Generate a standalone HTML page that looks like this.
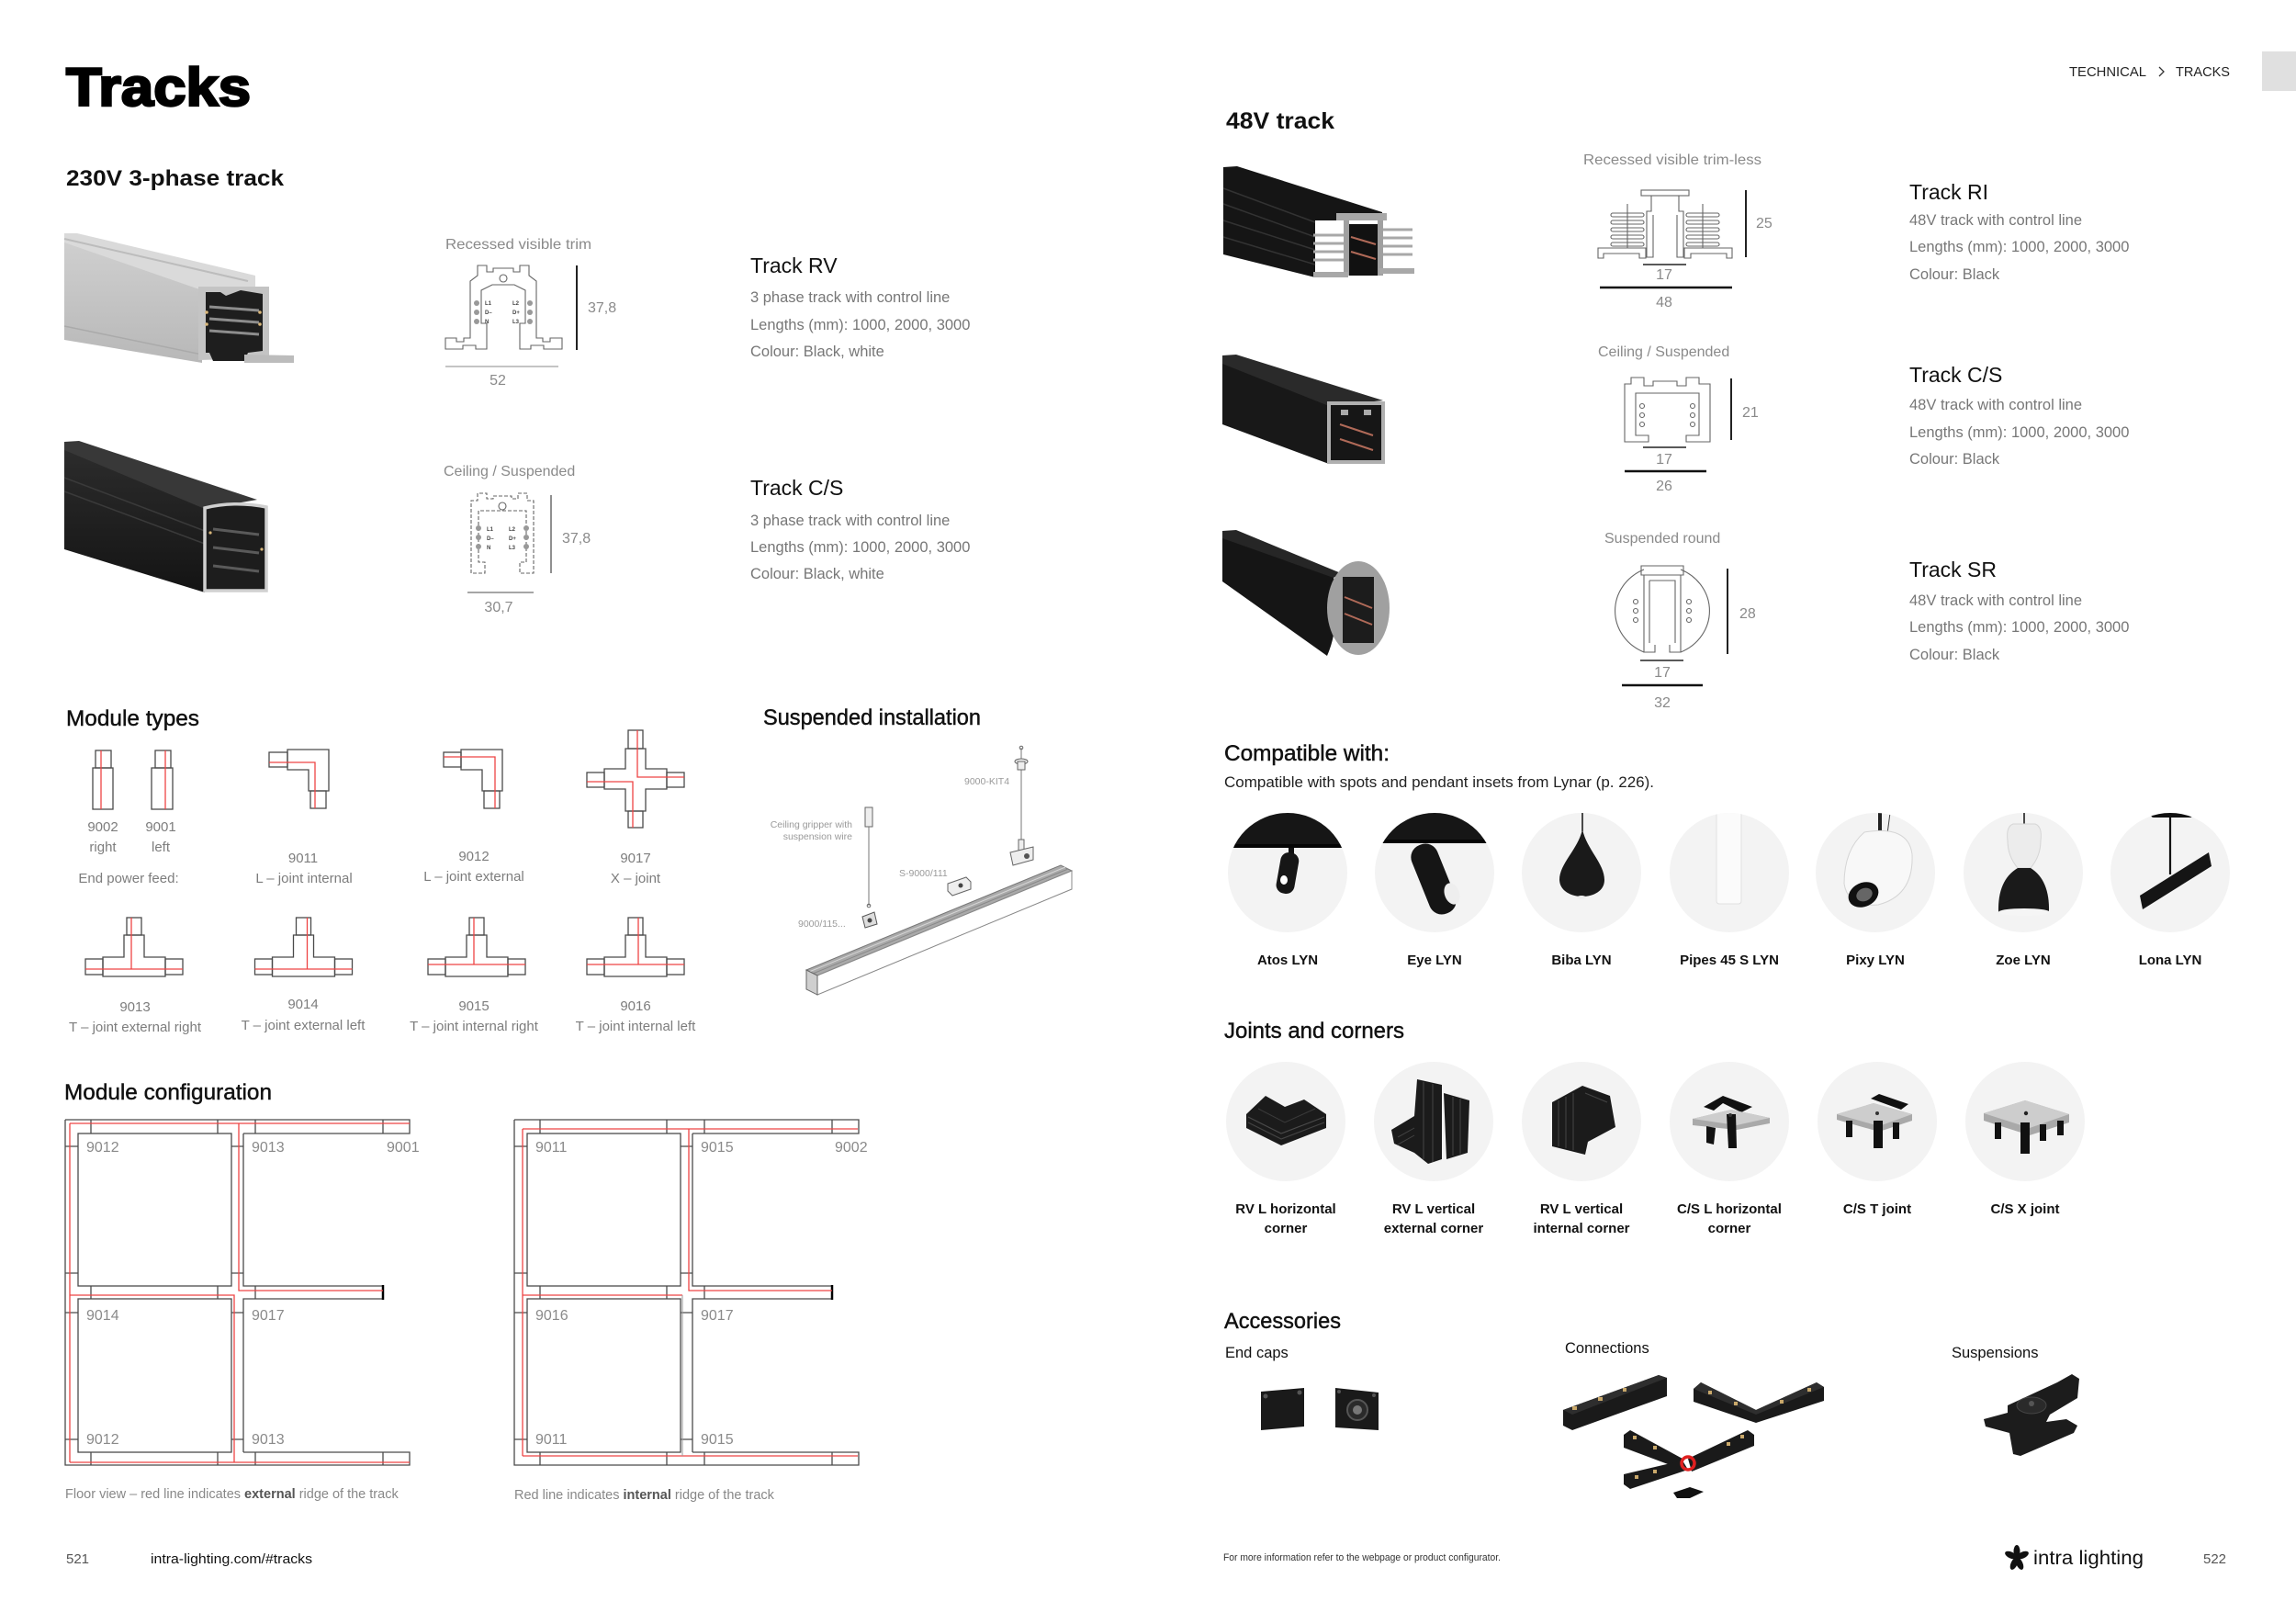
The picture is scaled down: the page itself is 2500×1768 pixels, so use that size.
<!DOCTYPE html>
<html><head><meta charset="utf-8">
<style>
html,body{margin:0;padding:0;background:#fff;}
svg{display:block;}
text{font-family:"Liberation Sans",Arial,sans-serif;}
.h{font-size:24px;fill:#111;stroke:#111;stroke-width:0.45px;}
.d{font-size:16.5px;fill:#777;}
.t{font-size:23px;fill:#111;}
.s{font-size:16px;fill:#8a8a8a;}
.m{font-size:15px;fill:#7d7d7d;text-anchor:middle;}
.b{font-size:15px;font-weight:bold;fill:#111;text-anchor:middle;}
.sm{font-size:10.5px;fill:#9a9a9a;}
.ln{stroke:#4a4a4a;stroke-width:1.3;fill:none;}
.rd{stroke:#e44;stroke-width:1.3;fill:none;}
.pr{stroke:#666;stroke-width:1.1;fill:none;}
.tiny{font-size:6px;font-weight:bold;fill:#444;}
</style></head><body>
<svg width="2500" height="1768" viewBox="0 0 2500 1768" xmlns="http://www.w3.org/2000/svg">
<rect width="2500" height="1768" fill="#fff"/>
<defs>
<linearGradient id="silv" x1="0" y1="0" x2="0" y2="1"><stop offset="0" stop-color="#cfcfcf"/><stop offset="1" stop-color="#b8b8b8"/></linearGradient>
<linearGradient id="blk" x1="0" y1="0" x2="0" y2="1"><stop offset="0" stop-color="#2c2c2c"/><stop offset="1" stop-color="#141414"/></linearGradient>
<clipPath id="c1"><circle cx="1402" cy="950" r="65"/></clipPath>
<clipPath id="c2"><circle cx="1562" cy="950" r="65"/></clipPath>
<clipPath id="c3"><circle cx="1722" cy="950" r="65"/></clipPath>
<clipPath id="c4"><circle cx="1883" cy="950" r="65"/></clipPath>
<clipPath id="c5"><circle cx="2042" cy="950" r="65"/></clipPath>
<clipPath id="c6"><circle cx="2203" cy="950" r="65"/></clipPath>
<clipPath id="c7"><circle cx="2363" cy="950" r="65"/></clipPath>
</defs>

<!-- ================= LEFT PAGE ================= -->
<text x="72" y="115" font-size="58" font-weight="bold" fill="#000" stroke="#000" stroke-width="2.5" textLength="201" lengthAdjust="spacingAndGlyphs">Tracks</text>
<text x="72" y="202" font-size="24" font-weight="bold" fill="#111" textLength="237" lengthAdjust="spacingAndGlyphs">230V 3-phase track</text>

<!-- silver RV track photo -->
<polygon points="70,262 220,314 220,395 70,370" fill="url(#silv)"/>
<polygon points="70,254 84,254 278,300 278,312 220,316 70,264" fill="#dadada"/>
<line x1="70" y1="260" x2="270" y2="306" stroke="#bcbcbc" stroke-width="2"/>
<line x1="70" y1="355" x2="220" y2="386" stroke="#aaa" stroke-width="1.5"/>
<polygon points="216,312 293,312 293,390 216,392" fill="#c4c4c4"/>
<path d="M224,318 L240,318 L246,322 L262,316 L286,320 L286,382 L270,384 L266,393 L232,393 L228,384 L224,384 Z" fill="#1e1e1e"/>
<g stroke="#8d8d8d" stroke-width="3"><line x1="228" y1="334" x2="282" y2="338"/><line x1="228" y1="347" x2="282" y2="351"/><line x1="228" y1="360" x2="282" y2="364"/></g>
<g fill="#d9b77a"><circle cx="225" cy="340" r="1.8"/><circle cx="225" cy="353" r="1.8"/><circle cx="283" cy="340" r="1.8"/><circle cx="283" cy="353" r="1.8"/></g>
<polygon points="266,386 320,387 320,395 266,395" fill="#bcbcbc"/>

<!-- black C/S track photo -->
<polygon points="70,488 223,553 223,645 70,598" fill="url(#blk)"/>
<polygon points="70,481 86,480 280,544 223,554 70,490" fill="#383838"/>
<g stroke="#3a3a3a" stroke-width="1.5"><line x1="70" y1="520" x2="223" y2="578"/><line x1="70" y1="535" x2="223" y2="592"/></g>
<path d="M223,553 Q255,545 290,552 L290,643 L223,643 Z" fill="#1d1d1d" stroke="#d0d0d0" stroke-width="3.5"/>
<g stroke="#5a5a5a" stroke-width="3"><line x1="232" y1="576" x2="282" y2="582"/><line x1="232" y1="596" x2="282" y2="602"/><line x1="232" y1="616" x2="282" y2="622"/></g>
<g fill="#d9b77a"><circle cx="229" cy="580" r="1.6"/><circle cx="285" cy="598" r="1.6"/></g>

<!-- RV profile -->
<text class="s" x="485" y="271" textLength="159" lengthAdjust="spacingAndGlyphs">Recessed visible trim</text>
<path class="pr" d="M485,380 L485,368 L497,368 L497,372 L505,372 L505,368 L512,368 L512,306 L520,300 L520,289 L530,289 L530,296 L537,296 L537,292 L559,292 L559,296 L566,296 L566,289 L576,289 L576,300 L584,306 L584,368 L591,368 L591,372 L599,372 L599,368 L612,368 L612,380 L592,380 L592,376 L578,376 L578,380 L566,380 L566,352 L572,352 L572,316 L560,310 L536,310 L524,316 L524,352 L530,352 L530,380 L518,380 L518,376 L504,376 L504,380 Z"/>
<circle cx="548" cy="303" r="4" class="pr"/>
<g fill="#999"><circle cx="519" cy="330" r="3"/><circle cx="519" cy="340" r="3"/><circle cx="519" cy="350" r="3"/><circle cx="577" cy="330" r="3"/><circle cx="577" cy="340" r="3"/><circle cx="577" cy="350" r="3"/></g>
<text class="tiny" x="528" y="332">L1</text><text class="tiny" x="528" y="342">D–</text><text class="tiny" x="528" y="352">N</text>
<text class="tiny" x="558" y="332">L2</text><text class="tiny" x="558" y="342">D+</text><text class="tiny" x="558" y="352">L3</text>
<line x1="628" y1="289" x2="628" y2="381" stroke="#222" stroke-width="2"/>
<text class="s" x="640" y="340">37,8</text>
<line x1="485" y1="399" x2="608" y2="399" stroke="#888" stroke-width="1"/>
<text class="s" x="542" y="419" text-anchor="middle">52</text>

<text class="t" x="817" y="297">Track RV</text>
<text class="d" x="817" y="329">3 phase track with control line</text>
<text class="d" x="817" y="359">Lengths (mm): 1000, 2000, 3000</text>
<text class="d" x="817" y="388">Colour: Black, white</text>

<!-- C/S profile -->
<text class="s" x="483" y="518">Ceiling / Suspended</text>
<path class="pr" stroke-dasharray="4,2" d="M513,624 L513,545 L520,545 L520,537 L530,537 L530,543 L537,543 L537,540 L557,540 L557,543 L564,543 L564,537 L574,537 L574,545 L581,545 L581,624 L566,624 L566,612 L573,612 L573,556 L521,556 L521,612 L528,612 L528,624 Z"/>
<circle cx="547" cy="551" r="4" class="pr"/>
<g fill="#999"><circle cx="521" cy="575" r="3"/><circle cx="521" cy="585" r="3"/><circle cx="521" cy="595" r="3"/><circle cx="573" cy="575" r="3"/><circle cx="573" cy="585" r="3"/><circle cx="573" cy="595" r="3"/></g>
<text class="tiny" x="530" y="578">L1</text><text class="tiny" x="530" y="588">D–</text><text class="tiny" x="530" y="598">N</text>
<text class="tiny" x="554" y="578">L2</text><text class="tiny" x="554" y="588">D+</text><text class="tiny" x="554" y="598">L3</text>
<line x1="600" y1="539" x2="600" y2="624" stroke="#555" stroke-width="1.3"/>
<text class="s" x="612" y="591">37,8</text>
<line x1="509" y1="645" x2="581" y2="645" stroke="#888" stroke-width="1.5"/>
<text class="s" x="543" y="666" text-anchor="middle">30,7</text>

<text class="t" x="817" y="539">Track C/S</text>
<text class="d" x="817" y="572">3 phase track with control line</text>
<text class="d" x="817" y="601">Lengths (mm): 1000, 2000, 3000</text>
<text class="d" x="817" y="630">Colour: Black, white</text>

<!-- Module types -->
<text class="h" x="72" y="790" textLength="145" lengthAdjust="spacingAndGlyphs">Module types</text>
<rect class="ln" x="104" y="817" width="17" height="19"/><rect class="ln" x="101" y="836" width="22" height="45"/>
<line class="rd" x1="110" y1="817" x2="110" y2="881"/>
<rect class="ln" x="169" y="817" width="17" height="19"/><rect class="ln" x="165" y="836" width="23" height="45"/>
<line class="rd" x1="180" y1="817" x2="180" y2="881"/>
<text class="m" x="112" y="905">9002</text><text class="m" x="175" y="905">9001</text>
<text class="m" x="112" y="927">right</text><text class="m" x="175" y="927">left</text>
<text class="m" x="140" y="961">End power feed:</text>
<polygon class="ln" points="313,816 358,816 358,861 336,861 336,838 313,838"/>
<rect class="ln" x="293" y="819" width="20" height="16"/><rect class="ln" x="338" y="861" width="17" height="19"/>
<path class="rd" d="M293,830 H343 V880" stroke="#f09090"/>
<text class="m" x="330" y="939">9011</text><text class="m" x="331" y="961">L – joint internal</text>
<polygon class="ln" points="502,816 547,816 547,861 525,861 525,838 502,838"/>
<rect class="ln" x="483" y="819" width="19" height="16"/><rect class="ln" x="527" y="861" width="17" height="19"/>
<path class="rd" d="M483,824 H539 V880"/>
<text class="m" x="516" y="937">9012</text><text class="m" x="516" y="959">L – joint external</text>
<polygon class="ln" points="681,815 703,815 703,837 726,837 726,859 703,859 703,883 681,883 681,859 658,859 658,837 681,837"/>
<rect class="ln" x="684" y="795" width="16" height="20"/><rect class="ln" x="684" y="883" width="16" height="18"/>
<rect class="ln" x="639" y="841" width="19" height="16"/><rect class="ln" x="726" y="841" width="19" height="16"/>
<path class="rd" d="M694,795 V846 H745 M639,851 H689 V901"/>
<text class="m" x="692" y="939">9017</text><text class="m" x="692" y="961">X – joint</text>
<g>
<polygon class="ln" points="135,1018 157,1018 157,1042 180,1042 180,1063 112,1063 112,1042 135,1042"/>
<rect class="ln" x="138" y="999" width="16" height="19"/><rect class="ln" x="93" y="1044" width="19" height="17"/><rect class="ln" x="180" y="1044" width="19" height="17"/>
<path class="rd" d="M143,999 V1055 M93,1055 H199" stroke="#f07070"/>
</g>
<g transform="translate(184.5,0)">
<polygon class="ln" points="135,1018 157,1018 157,1042 180,1042 180,1063 112,1063 112,1042 135,1042"/>
<rect class="ln" x="138" y="999" width="16" height="19"/><rect class="ln" x="93" y="1044" width="19" height="17"/><rect class="ln" x="180" y="1044" width="19" height="17"/>
<path class="rd" d="M150,999 V1055 M93,1055 H199"/>
</g>
<g transform="translate(373,0)">
<polygon class="ln" points="135,1018 157,1018 157,1042 180,1042 180,1063 112,1063 112,1042 135,1042"/>
<rect class="ln" x="138" y="999" width="16" height="19"/><rect class="ln" x="93" y="1044" width="19" height="17"/><rect class="ln" x="180" y="1044" width="19" height="17"/>
<path class="rd" d="M143,999 V1050 M93,1050 H199" stroke="#f07070"/>
</g>
<g transform="translate(546,0)">
<polygon class="ln" points="135,1018 157,1018 157,1042 180,1042 180,1063 112,1063 112,1042 135,1042"/>
<rect class="ln" x="138" y="999" width="16" height="19"/><rect class="ln" x="93" y="1044" width="19" height="17"/><rect class="ln" x="180" y="1044" width="19" height="17"/>
<path class="rd" d="M149,999 V1050 M93,1050 H199"/>
</g>
<text class="m" x="147" y="1101">9013</text><text class="m" x="147" y="1123">T – joint external right</text>
<text class="m" x="330" y="1098">9014</text><text class="m" x="330" y="1121">T – joint external left</text>
<text class="m" x="516" y="1100">9015</text><text class="m" x="516" y="1122">T – joint internal right</text>
<text class="m" x="692" y="1100">9016</text><text class="m" x="692" y="1122">T – joint internal left</text>

<!-- Suspended installation -->
<text class="h" x="831" y="789" textLength="237" lengthAdjust="spacingAndGlyphs">Suspended installation</text>
<line x1="1112" y1="814" x2="1112" y2="918" stroke="#777" stroke-width="1"/>
<circle cx="1112" cy="814" r="1.8" fill="none" stroke="#666"/>
<ellipse cx="1112" cy="829" rx="7" ry="3" fill="#eee" stroke="#666"/>
<rect x="1108" y="829" width="8" height="9" fill="#eee" stroke="#666"/>
<rect x="1109" y="914" width="6" height="12" fill="#eee" stroke="#666"/>
<polygon points="1100,928 1125,922 1125,936 1103,942" fill="#eee" stroke="#666"/>
<circle cx="1118" cy="932" r="3" fill="#555"/>
<rect x="942" y="879" width="8" height="21" fill="#eee" stroke="#666"/>
<line x1="946" y1="900" x2="946" y2="986" stroke="#777" stroke-width="1"/>
<circle cx="946" cy="986" r="1.8" fill="none" stroke="#666"/>
<polygon points="939,998 952,993 955,1006 942,1010" fill="#ddd" stroke="#555"/>
<circle cx="947" cy="1002" r="2.5" fill="#444"/>
<polygon points="1032,962 1052,955 1057,960 1057,968 1037,975 1032,970" fill="#eee" stroke="#666"/>
<circle cx="1046" cy="964" r="2.5" fill="#444"/>
<polygon points="878,1056 1155,942 1167,948 890,1062" fill="#a9a9a9" stroke="#777" stroke-width="1"/>
<line x1="881" y1="1058" x2="1160" y2="944" stroke="#d5d5d5" stroke-width="1"/>
<line x1="885" y1="1060" x2="1163" y2="946" stroke="#888" stroke-width="1"/>
<polygon points="890,1062 1167,948 1167,968 890,1083" fill="#fff" stroke="#888" stroke-width="1"/>
<polygon points="878,1056 890,1062 890,1083 878,1077" fill="#cfcfcf" stroke="#666" stroke-width="1"/>
<text class="sm" x="1050" y="854">9000-KIT4</text>
<text class="sm" x="928" y="901" text-anchor="end">Ceiling gripper with</text>
<text class="sm" x="928" y="914" text-anchor="end">suspension wire</text>
<text class="sm" x="979" y="954">S-9000/111</text>
<text class="sm" x="869" y="1009">9000/115...</text>

<!-- Module configuration -->
<text class="h" x="70" y="1197" textLength="226" lengthAdjust="spacingAndGlyphs">Module configuration</text>
<g id="cfg">
<path class="ln" d="M71,1219 H446 V1234 H265 M71,1219 V1595 H446 V1581 H265"/>
<rect class="ln" x="85" y="1234" width="167" height="166"/>
<rect class="ln" x="85" y="1414" width="167" height="167"/>
<path class="ln" d="M265,1234 V1400 H417 M265,1581 V1414 H417"/>
<line x1="417" y1="1399" x2="417" y2="1415" stroke="#000" stroke-width="2.5"/>
<path class="ln" d="M99,1219 V1234 M237,1219 V1234 M278,1219 V1234 M417,1219 V1234 M99,1581 V1595 M237,1581 V1595 M278,1581 V1595 M417,1581 V1595 M99,1400 V1414 M237,1400 V1414 M278,1400 V1414"/>
<path class="ln" d="M71,1248 H85 M71,1386 H85 M71,1429 H85 M71,1567 H85 M252,1248 H265 M252,1386 H265 M252,1429 H265 M252,1567 H265"/>
</g>
<path class="rd" d="M76,1223 V1592 M76,1223 H446 M260,1223 V1405 H417 M76,1410 H255 V1592 M76,1592 H446" stroke="#ee8080"/>
<use href="#cfg" x="489" y="0"/>
<path class="rd" d="M569,1229 V1585 M569,1229 H934 M750,1229 V1405 H906 M569,1410 H743 M569,1585 H934"/>
<line x1="743" y1="1410" x2="743" y2="1585" stroke="#999" stroke-width="1"/>
<g class="s">
<text x="94" y="1254">9012</text><text x="274" y="1254">9013</text><text x="421" y="1254">9001</text>
<text x="94" y="1437">9014</text><text x="274" y="1437">9017</text>
<text x="94" y="1572">9012</text><text x="274" y="1572">9013</text>
<text x="583" y="1254">9011</text><text x="763" y="1254">9015</text><text x="909" y="1254">9002</text>
<text x="583" y="1437">9016</text><text x="763" y="1437">9017</text>
<text x="583" y="1572">9011</text><text x="763" y="1572">9015</text>
</g>
<text x="71" y="1631" font-size="14.5" fill="#888">Floor view – red line indicates <tspan font-weight="bold" fill="#555">external</tspan> ridge of the track</text>
<text x="560" y="1632" font-size="14.5" fill="#888">Red line indicates <tspan font-weight="bold" fill="#555">internal</tspan> ridge of the track</text>

<text x="72" y="1702" font-size="15" fill="#555">521</text>
<text x="164" y="1702" font-size="15" fill="#111" textLength="176" lengthAdjust="spacingAndGlyphs">intra-lighting.com/#tracks</text>

<!-- ================= RIGHT PAGE ================= -->
<text x="2253" y="83" font-size="15" fill="#222" textLength="84" lengthAdjust="spacingAndGlyphs">TECHNICAL</text>
<polyline points="2351,73 2356,78 2351,83" fill="none" stroke="#333" stroke-width="1.3"/>
<text x="2369" y="83" font-size="15" fill="#222" textLength="59" lengthAdjust="spacingAndGlyphs">TRACKS</text>
<rect x="2463" y="56" width="37" height="43" fill="#e0e0e0"/>

<text x="1335" y="140" font-size="25" font-weight="bold" fill="#111" textLength="118" lengthAdjust="spacingAndGlyphs">48V track</text>

<!-- RI photo -->
<polygon points="1332,182 1347,181 1505,231 1505,240 1432,240 1432,302 1332,277" fill="#151515"/>
<g stroke="#333" stroke-width="1.5"><line x1="1332" y1="205" x2="1432" y2="242"/><line x1="1332" y1="222" x2="1432" y2="258"/><line x1="1332" y1="240" x2="1432" y2="272"/><line x1="1332" y1="258" x2="1432" y2="288"/></g>
<rect x="1455" y="232" width="55" height="8" fill="#a8a8a8"/>
<rect x="1463" y="240" width="6" height="60" fill="#a0a0a0"/><rect x="1500" y="240" width="6" height="60" fill="#a0a0a0"/>
<rect x="1469" y="244" width="31" height="56" fill="#111"/>
<g stroke="#a8a8a8" stroke-width="3"><line x1="1430" y1="256" x2="1463" y2="256"/><line x1="1430" y1="265" x2="1463" y2="265"/><line x1="1430" y1="274" x2="1463" y2="274"/><line x1="1430" y1="283" x2="1463" y2="283"/><line x1="1506" y1="250" x2="1538" y2="250"/><line x1="1506" y1="259" x2="1538" y2="259"/><line x1="1506" y1="268" x2="1538" y2="268"/><line x1="1506" y1="277" x2="1538" y2="277"/></g>
<rect x="1430" y="296" width="38" height="6" fill="#a8a8a8"/><rect x="1502" y="292" width="38" height="6" fill="#a8a8a8"/>
<g stroke="#b06a58" stroke-width="2"><line x1="1471" y1="258" x2="1498" y2="266"/><line x1="1471" y1="274" x2="1498" y2="282"/></g>

<!-- C/S 48V photo -->
<polygon points="1331,395 1447,441 1447,505 1331,462" fill="#181818"/>
<polygon points="1331,387 1346,386 1506,436 1447,442 1331,396" fill="#2a2a2a"/>
<rect x="1447" y="439" width="59" height="64" fill="#161616" stroke="#b0b0b0" stroke-width="4"/>
<rect x="1460" y="446" width="8" height="6" fill="#aaa"/><rect x="1485" y="446" width="8" height="6" fill="#aaa"/>
<g stroke="#b06a58" stroke-width="2"><line x1="1459" y1="462" x2="1495" y2="474"/><line x1="1459" y1="478" x2="1495" y2="490"/></g>

<!-- SR photo -->
<path d="M1331,585 L1452,628 Q1460,680 1445,714 L1331,633 Z" fill="#151515"/>
<polygon points="1331,578 1346,577 1460,624 1452,629 1331,586" fill="#262626"/>
<ellipse cx="1479" cy="662" rx="34" ry="51" fill="#a0a0a0"/>
<rect x="1462" y="628" width="34" height="72" fill="#1c1c1c"/>
<g stroke="#b06a58" stroke-width="2"><line x1="1464" y1="650" x2="1494" y2="662"/><line x1="1464" y1="668" x2="1494" y2="680"/></g>

<!-- RI profile -->
<text class="s" x="1724" y="179" textLength="194" lengthAdjust="spacingAndGlyphs">Recessed visible trim-less</text>
<rect class="pr" x="1787" y="207" width="52" height="6"/>
<polyline class="pr" points="1798,213 1798,230 1793,230 1793,280 1800,280 1800,234"/>
<polyline class="pr" points="1828,213 1828,230 1833,230 1833,280 1826,280 1826,234"/>
<g class="pr"><rect x="1754" y="232" width="36" height="4" rx="2"/><rect x="1754" y="240" width="36" height="4" rx="2"/><rect x="1754" y="248" width="36" height="4" rx="2"/><rect x="1754" y="256" width="36" height="4" rx="2"/><rect x="1754" y="264" width="36" height="4" rx="2"/>
<rect x="1836" y="232" width="36" height="4" rx="2"/><rect x="1836" y="240" width="36" height="4" rx="2"/><rect x="1836" y="248" width="36" height="4" rx="2"/><rect x="1836" y="256" width="36" height="4" rx="2"/><rect x="1836" y="264" width="36" height="4" rx="2"/></g>
<polygon class="pr" points="1740,270 1792,270 1792,281 1785,281 1785,276 1746,276 1746,281 1740,281"/>
<polygon class="pr" points="1886,270 1834,270 1834,281 1841,281 1841,276 1880,276 1880,281 1886,281"/>
<line x1="1772" y1="222" x2="1772" y2="270" class="pr"/><line x1="1854" y1="222" x2="1854" y2="270" class="pr"/>
<line x1="1901" y1="207" x2="1901" y2="280" stroke="#222" stroke-width="2"/>
<text class="s" x="1912" y="248">25</text>
<line x1="1789" y1="288" x2="1836" y2="288" stroke="#222" stroke-width="1.5"/>
<text class="s" x="1812" y="304" text-anchor="middle">17</text>
<line x1="1742" y1="313" x2="1886" y2="313" stroke="#111" stroke-width="2.5"/>
<text class="s" x="1812" y="334" text-anchor="middle">48</text>

<text class="t" x="2079" y="217">Track RI</text>
<text class="d" x="2079" y="245">48V track with control line</text>
<text class="d" x="2079" y="274">Lengths (mm): 1000, 2000, 3000</text>
<text class="d" x="2079" y="304">Colour: Black</text>

<!-- C/S 48V profile -->
<text class="s" x="1740" y="388">Ceiling / Suspended</text>
<path class="pr" d="M1769,481 L1769,418 L1776,418 L1776,411 L1790,411 L1790,420 L1800,420 L1800,415 L1826,415 L1826,420 L1836,420 L1836,411 L1850,411 L1850,418 L1862,418 L1862,481 L1836,481 L1836,474 L1850,474 L1850,428 L1781,428 L1781,474 L1795,474 L1795,481 Z"/>
<g class="pr"><circle cx="1788" cy="442" r="2.5"/><circle cx="1788" cy="452" r="2.5"/><circle cx="1788" cy="462" r="2.5"/><circle cx="1843" cy="442" r="2.5"/><circle cx="1843" cy="452" r="2.5"/><circle cx="1843" cy="462" r="2.5"/></g>
<line x1="1885" y1="412" x2="1885" y2="479" stroke="#222" stroke-width="2"/>
<text class="s" x="1897" y="454">21</text>
<line x1="1789" y1="487" x2="1836" y2="487" stroke="#222" stroke-width="1.5"/>
<text class="s" x="1812" y="505" text-anchor="middle">17</text>
<line x1="1769" y1="513" x2="1858" y2="513" stroke="#111" stroke-width="2.5"/>
<text class="s" x="1812" y="534" text-anchor="middle">26</text>

<text class="t" x="2079" y="416">Track C/S</text>
<text class="d" x="2079" y="446">48V track with control line</text>
<text class="d" x="2079" y="476">Lengths (mm): 1000, 2000, 3000</text>
<text class="d" x="2079" y="505">Colour: Black</text>

<!-- SR profile -->
<text class="s" x="1747" y="591">Suspended round</text>
<path class="pr" d="M1790,620 A52,49 0 0 0 1790,710 M1830,710 A52,49 0 0 0 1830,620"/>
<path class="pr" d="M1787,616 H1833 V626 H1787 Z M1790,626 V710 H1802 V702 M1830,626 V710 H1818 V702 M1796,632 H1824 V700 M1796,632 V700"/>
<g class="pr"><circle cx="1781" cy="655" r="2.5"/><circle cx="1781" cy="665" r="2.5"/><circle cx="1781" cy="675" r="2.5"/><circle cx="1839" cy="655" r="2.5"/><circle cx="1839" cy="665" r="2.5"/><circle cx="1839" cy="675" r="2.5"/></g>
<line x1="1881" y1="619" x2="1881" y2="712" stroke="#222" stroke-width="2"/>
<text class="s" x="1894" y="673">28</text>
<line x1="1786" y1="719" x2="1833" y2="719" stroke="#222" stroke-width="1.5"/>
<text class="s" x="1810" y="737" text-anchor="middle">17</text>
<line x1="1766" y1="746" x2="1854" y2="746" stroke="#111" stroke-width="2.5"/>
<text class="s" x="1810" y="770" text-anchor="middle">32</text>

<text class="t" x="2079" y="628">Track SR</text>
<text class="d" x="2079" y="659">48V track with control line</text>
<text class="d" x="2079" y="688">Lengths (mm): 1000, 2000, 3000</text>
<text class="d" x="2079" y="718">Colour: Black</text>

<!-- Compatible with -->
<text class="h" x="1333" y="828" textLength="180" lengthAdjust="spacingAndGlyphs">Compatible with:</text>
<text x="1333" y="857" font-size="16.5" fill="#222" textLength="468" lengthAdjust="spacingAndGlyphs">Compatible with spots and pendant insets from Lynar (p. 226).</text>
<g fill="#f3f3f3">
<circle cx="1402" cy="950" r="65"/><circle cx="1562" cy="950" r="65"/><circle cx="1722" cy="950" r="65"/><circle cx="1883" cy="950" r="65"/><circle cx="2042" cy="950" r="65"/><circle cx="2203" cy="950" r="65"/><circle cx="2363" cy="950" r="65"/>
</g>
<g clip-path="url(#c1)">
<rect x="1330" y="880" width="150" height="39" fill="#161616"/>
<rect x="1330" y="919" width="150" height="4" fill="#050505"/>
<rect x="1403" y="923" width="6" height="8" fill="#111"/>
<rect x="1392" y="928" width="20" height="45" rx="9" fill="#161616" transform="rotate(10 1402 950)"/>
<ellipse cx="1398" cy="958" rx="4" ry="5" fill="#fff"/>
</g>
<g clip-path="url(#c2)">
<rect x="1490" y="880" width="150" height="34" fill="#161616"/>
<rect x="1490" y="914" width="150" height="4" fill="#050505"/>
<rect x="1546" y="917" width="30" height="80" rx="14" fill="#151515" transform="rotate(-22 1561 957)"/>
<ellipse cx="1581" cy="973" rx="8" ry="12" fill="#eee" transform="rotate(-20 1581 973)"/>
</g>
<g clip-path="url(#c3)">
<line x1="1723" y1="885" x2="1723" y2="905" stroke="#111" stroke-width="1.5"/>
<path d="M1723,903 C1718,925 1698,940 1698,958 C1699,982 1747,982 1747,958 C1747,940 1728,925 1723,903 Z" fill="#1a1a1a"/>
<ellipse cx="1722" cy="977" rx="5" ry="2" fill="#eee"/>
</g>
<g clip-path="url(#c4)">
<rect x="1869" y="880" width="27" height="104" rx="3" fill="#fbfbfb" stroke="#e0e0e0"/>
</g>
<g clip-path="url(#c5)">
<rect x="2045" y="880" width="4" height="28" fill="#222"/>
<line x1="2058" y1="885" x2="2055" y2="908" stroke="#444" stroke-width="1"/>
<path d="M2030,906 Q2078,898 2082,930 Q2084,975 2045,985 Q2012,988 2008,962 Q2008,925 2030,906 Z" fill="#f8f8f8" stroke="#d5d5d5"/>
<ellipse cx="2029" cy="974" rx="17" ry="13" fill="#111" transform="rotate(-25 2029 974)"/>
<ellipse cx="2030" cy="974" rx="9" ry="7" fill="#666" transform="rotate(-25 2030 974)"/>
</g>
<g clip-path="url(#c6)">
<line x1="2204" y1="885" x2="2204" y2="898" stroke="#111" stroke-width="1.5"/>
<path d="M2192,897 H2216 Q2224,900 2222,915 Q2222,932 2211,945 H2197 Q2186,932 2186,915 Q2184,900 2192,897 Z" fill="#ececec" stroke="#d5d5d5"/>
<path d="M2197,945 H2211 Q2232,958 2231,993 H2176 Q2175,958 2197,945 Z" fill="#1a1a1a"/>
<ellipse cx="2204" cy="993" rx="28" ry="4" fill="#f5f5f5"/>
</g>
<g clip-path="url(#c7)">
<rect x="2342" y="880" width="46" height="10" rx="3" fill="#111"/>
<line x1="2363" y1="888" x2="2363" y2="952" stroke="#111" stroke-width="2.2"/>
<polygon points="2330,975 2333,990 2408,943 2405,928" fill="#151515"/>
<line x1="2334" y1="991" x2="2408" y2="944" stroke="#f4f4f4" stroke-width="1.5"/>
</g>
<g class="b">
<text x="1402" y="1050">Atos LYN</text><text x="1562" y="1050">Eye LYN</text><text x="1722" y="1050">Biba LYN</text><text x="1883" y="1050">Pipes 45 S LYN</text><text x="2042" y="1050">Pixy LYN</text><text x="2203" y="1050">Zoe LYN</text><text x="2363" y="1050">Lona LYN</text>
</g>

<!-- Joints and corners -->
<text class="h" x="1333" y="1130" textLength="196" lengthAdjust="spacingAndGlyphs">Joints and corners</text>
<g fill="#f3f3f3">
<circle cx="1400" cy="1221" r="65"/><circle cx="1561" cy="1221" r="65"/><circle cx="1722" cy="1221" r="65"/><circle cx="1883" cy="1221" r="65"/><circle cx="2044" cy="1221" r="65"/><circle cx="2205" cy="1221" r="65"/>
</g>
<!-- RV L horizontal -->
<polygon points="1378,1193 1399,1205 1420,1197 1444,1213 1444,1228 1395,1247 1357,1228 1357,1213" fill="#1b1b1b"/>
<polyline points="1359,1216 1395,1234 1442,1216" fill="none" stroke="#4a4a4a" stroke-width="1.2"/>
<polyline points="1359,1222 1395,1240 1442,1222" fill="none" stroke="#444" stroke-width="1.2"/>
<polyline points="1370,1207 1399,1222 1432,1207" fill="none" stroke="#3a3a3a" stroke-width="1"/>
<!-- RV L vertical external -->
<polygon points="1543,1175 1570,1181 1570,1262 1555,1267 1540,1255 1518,1245 1515,1230 1540,1215" fill="#1b1b1b"/>
<polygon points="1572,1190 1600,1198 1598,1255 1575,1262" fill="#1b1b1b"/>
<g stroke="#444" stroke-width="1"><line x1="1550" y1="1178" x2="1550" y2="1262"/><line x1="1560" y1="1180" x2="1560" y2="1265"/><line x1="1582" y1="1194" x2="1582" y2="1258"/><line x1="1590" y1="1196" x2="1590" y2="1256"/><line x1="1522" y1="1238" x2="1540" y2="1228"/><line x1="1522" y1="1246" x2="1540" y2="1236"/></g>
<!-- RV L vertical internal -->
<polygon points="1723,1182 1753,1193 1759,1227 1729,1243 1726,1257 1690,1248 1690,1200" fill="#1b1b1b"/>
<g stroke="#444" stroke-width="1"><line x1="1697" y1="1198" x2="1697" y2="1248"/><line x1="1705" y1="1194" x2="1705" y2="1250"/><line x1="1713" y1="1190" x2="1713" y2="1252"/><line x1="1726" y1="1190" x2="1750" y2="1200"/></g>
<!-- C/S L horizontal -->
<polygon points="1855,1205 1876,1193 1908,1205 1896,1211 1876,1201 1866,1209" fill="#111"/>
<polygon points="1843,1218 1885,1208 1927,1217 1927,1223 1891,1230 1843,1225" fill="#a9a9a9"/>
<polygon points="1843,1218 1885,1208 1927,1217 1891,1225" fill="#cdcdcd"/>
<polygon points="1880,1213 1890,1213 1891,1250 1882,1250" fill="#111"/>
<polygon points="1858,1226 1868,1228 1866,1246 1858,1244" fill="#111"/>
<circle cx="1884" cy="1214" r="2" fill="#333"/>
<!-- C/S T -->
<polygon points="2037,1196 2046,1191 2078,1202 2070,1208" fill="#111"/>
<polygon points="2000,1213 2040,1201 2082,1213 2082,1220 2046,1232 2000,1219" fill="#a9a9a9"/>
<polygon points="2000,1213 2040,1201 2082,1213 2046,1226" fill="#cdcdcd"/>
<rect x="2040" y="1220" width="10" height="30" fill="#111"/><rect x="2061" y="1222" width="7" height="18" fill="#111"/><rect x="2010" y="1220" width="7" height="18" fill="#111"/>
<circle cx="2044" cy="1212" r="2" fill="#333"/>
<!-- C/S X -->
<polygon points="2160,1212 2205,1198 2253,1213 2253,1222 2210,1236 2160,1220" fill="#a9a9a9"/>
<polygon points="2160,1212 2205,1198 2253,1213 2210,1228" fill="#cdcdcd"/>
<rect x="2200" y="1222" width="10" height="34" fill="#111"/><rect x="2221" y="1224" width="7" height="18" fill="#111"/><rect x="2172" y="1222" width="7" height="18" fill="#111"/><rect x="2240" y="1220" width="7" height="16" fill="#111"/>
<circle cx="2206" cy="1212" r="2.2" fill="#222"/>
<g class="b">
<text x="1400" y="1321">RV L horizontal</text><text x="1400" y="1342">corner</text>
<text x="1561" y="1321">RV L vertical</text><text x="1561" y="1342">external corner</text>
<text x="1722" y="1321">RV L vertical</text><text x="1722" y="1342">internal corner</text>
<text x="1883" y="1321">C/S L horizontal</text><text x="1883" y="1342">corner</text>
<text x="2044" y="1321">C/S T joint</text>
<text x="2205" y="1321">C/S X joint</text>
</g>

<!-- Accessories -->
<text class="h" x="1333" y="1446" textLength="127" lengthAdjust="spacingAndGlyphs">Accessories</text>
<text x="1334" y="1478" font-size="16.5" fill="#111">End caps</text>
<text x="1704" y="1473" font-size="16.5" fill="#111">Connections</text>
<text x="2125" y="1478" font-size="16.5" fill="#111">Suspensions</text>
<polygon points="1373,1515 1420,1511 1420,1553 1373,1557" fill="#1a1a1a"/>
<circle cx="1378" cy="1520" r="2.5" fill="#555"/><circle cx="1415" cy="1516" r="2.5" fill="#555"/>
<polygon points="1454,1511 1501,1516 1501,1557 1454,1554" fill="#1a1a1a"/>
<circle cx="1478" cy="1535" r="11" fill="#2a2a2a" stroke="#555" stroke-width="2"/>
<circle cx="1478" cy="1535" r="5" fill="#777"/>
<circle cx="1458" cy="1515" r="2" fill="#555"/><circle cx="1496" cy="1519" r="2" fill="#555"/>
<polygon points="1702,1535 1806,1497 1815,1500 1815,1520 1712,1557 1702,1552" fill="#1a1a1a"/>
<polygon points="1702,1535 1806,1497 1815,1500 1712,1540" fill="#2e2e2e"/>
<g fill="#c9a86a"><rect x="1712" y="1531" width="5" height="4"/><rect x="1740" y="1521" width="5" height="4"/><rect x="1767" y="1511" width="4" height="4"/></g>
<polygon points="1844,1512 1852,1505 1912,1535 1978,1505 1986,1510 1986,1525 1912,1549 1844,1526" fill="#1a1a1a"/>
<polygon points="1844,1512 1852,1505 1912,1535 1978,1505 1986,1510 1912,1540" fill="#2e2e2e"/>
<g fill="#c9a86a"><rect x="1860" y="1514" width="4" height="4"/><rect x="1888" y="1526" width="4" height="4"/><rect x="1938" y="1524" width="4" height="4"/><rect x="1968" y="1511" width="4" height="4"/></g>
<polygon points="1768,1562 1775,1557 1832,1588 1832,1600 1768,1576" fill="#1a1a1a"/>
<polygon points="1838,1588 1903,1557 1910,1562 1910,1574 1842,1602" fill="#1a1a1a"/>
<polygon points="1768,1605 1832,1590 1838,1600 1775,1621 1768,1616" fill="#1a1a1a"/>
<circle cx="1838" cy="1593" r="7" fill="none" stroke="#e02020" stroke-width="3.5"/>
<g fill="#c9a86a"><rect x="1778" y="1563" width="4" height="4"/><rect x="1800" y="1574" width="4" height="4"/><rect x="1880" y="1570" width="4" height="4"/><rect x="1895" y="1562" width="4" height="4"/><rect x="1780" y="1606" width="4" height="4"/><rect x="1800" y="1600" width="4" height="4"/></g>
<polygon points="1822,1625 1840,1619 1855,1624 1840,1631 1826,1631" fill="#111"/>
<polygon points="2186,1530 2240,1505 2256,1496 2264,1501 2262,1522 2232,1540 2228,1548 2250,1545 2262,1552 2258,1560 2200,1585 2192,1583 2188,1560 2162,1553 2160,1545 2186,1538" fill="#1c1c1c"/>
<ellipse cx="2212" cy="1530" rx="16" ry="9" fill="#2a2a2a" stroke="#444"/>
<circle cx="2212" cy="1528" r="3" fill="#555"/>

<!-- footer right -->
<text x="1332" y="1699" font-size="11" fill="#333" textLength="302" lengthAdjust="spacingAndGlyphs">For more information refer to the webpage or product configurator.</text>
<g fill="#111">
<ellipse cx="2196" cy="1689" rx="3.5" ry="7"/>
<ellipse cx="2196" cy="1689" rx="3.5" ry="7" transform="rotate(-65 2196 1696)"/>
<ellipse cx="2196" cy="1689" rx="3.5" ry="7" transform="rotate(65 2196 1696)"/>
<ellipse cx="2196" cy="1689" rx="3.5" ry="7" transform="rotate(155 2196 1696)"/>
<ellipse cx="2196" cy="1689" rx="3.5" ry="7" transform="rotate(-155 2196 1696)"/>
</g>
<text x="2214" y="1703" font-size="21" fill="#111" textLength="120" lengthAdjust="spacingAndGlyphs">intra lighting</text>
<text x="2399" y="1702" font-size="15" fill="#555">522</text>
</svg>
</body></html>
